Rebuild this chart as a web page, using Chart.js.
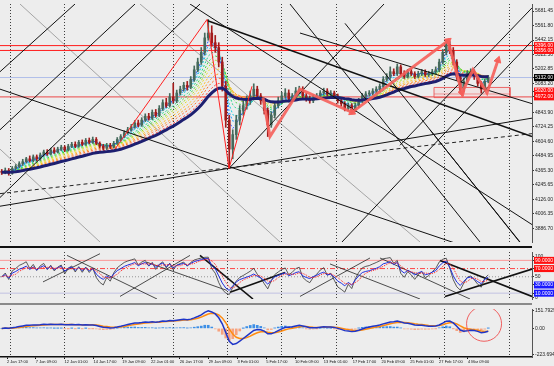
<!DOCTYPE html>
<html><head><meta charset="utf-8">
<script src="https://cdn.jsdelivr.net/npm/chart.js"></script>
<style>
html,body{margin:0;padding:0;background:#ededed;width:554px;height:366px;overflow:hidden;position:relative;}
canvas{position:absolute;left:0;}
.sep{position:absolute;left:0;width:532px;}
</style></head><body>
<canvas id="cMain" width="554" height="246" style="top:0"></canvas>
<div class="sep" style="top:246px;height:2px;background:#111"></div>
<canvas id="cRsi" width="554" height="55" style="top:248px"></canvas>
<div class="sep" style="top:303px;height:2px;background:#8a8a8a"></div>
<canvas id="cMacd" width="554" height="61" style="top:305px"></canvas>
<script>
// ---------- DATA (XAUUSD H4) ----------
const opens = [4356,4348,4364,4340,4380,4396,4420,4436,4460,4444,
4476,4460,4492,4516,4500,4532,4516,4540,4556,4532,
4564,4580,4564,4596,4580,4612,4596,4620,4588,4564,
4548,4572,4556,4588,4620,4644,4676,4700,4724,4756,
4740,4780,4812,4796,4844,4820,4876,4924,4900,4972,
4940,5004,5036,5068,5052,5116,5196,5260,5340,5460,
5500,5420,5380,5260,5060,4780,4540,4660,4780,4860,
4900,4940,4980,5036,4980,4940,4860,4740,4820,4900,
4940,4980,5004,4956,4980,5020,5036,4980,4956,4940,
4964,4980,5004,5020,4996,5004,4980,4940,4916,4876,
4900,4860,4900,4940,4980,4996,5004,5020,5036,5060,
5116,5140,5180,5164,5220,5164,5140,5180,5164,5140,
5164,5180,5156,5164,5180,5196,5260,5340,5404,5356,
5260,5140,5036,5100,5164,5180,5140,5084,5036,5100];
const closes = [4348,4364,4340,4380,4396,4420,4436,4460,4444,4476,
4460,4492,4516,4500,4532,4516,4540,4556,4532,4564,
4580,4564,4596,4580,4612,4596,4620,4588,4564,4548,
4572,4556,4588,4620,4644,4676,4700,4724,4756,4740,
4780,4812,4796,4844,4820,4876,4924,4900,4972,4940,
5004,5036,5068,5052,5116,5196,5260,5340,5460,5500,
5420,5380,5260,5060,4780,4540,4660,4780,4860,4900,
4940,4980,5036,4980,4940,4860,4740,4820,4900,4940,
4980,5004,4956,4980,5020,5036,4980,4956,4940,4964,
4980,5004,5020,4996,5004,4980,4940,4916,4876,4900,
4860,4900,4940,4980,4996,5004,5020,5036,5060,5116,
5140,5180,5164,5220,5164,5140,5180,5164,5140,5164,
5180,5156,5164,5180,5196,5260,5340,5404,5356,5260,
5140,5036,5100,5164,5180,5140,5084,5036,5100,5132];
const highs = [4372,4384,4380,4396,4412,4436,4456,4472,4484,4492,
4492,4508,4532,4536,4548,4552,4556,4572,4568,4580,
4596,4600,4612,4616,4628,4632,4640,4636,4600,4580,
4588,4588,4604,4636,4660,4692,4720,4744,4776,4780,
4800,4832,4836,4864,4868,4900,4948,4960,5000,5084,
5028,5060,5092,5100,5140,5228,5292,5380,5500,5612,
5560,5480,5420,5300,5100,4820,4700,4820,4900,4940,
4980,5020,5080,5060,5000,4960,4880,4850,4920,4970,
5010,5040,5030,5000,5050,5060,5056,5000,4980,4988,
5000,5024,5044,5040,5024,5020,4996,4960,4932,4920,
4916,4920,4960,5000,5016,5024,5040,5056,5080,5140,
5164,5220,5204,5244,5236,5188,5200,5204,5180,5184,
5200,5196,5184,5200,5220,5284,5364,5444,5430,5380,
5280,5160,5124,5190,5204,5196,5156,5100,5120,5150];
const lows = [4330,4336,4324,4332,4368,4384,4404,4424,4432,4436,
4444,4448,4480,4488,4492,4504,4508,4528,4520,4524,
4552,4552,4556,4568,4572,4584,4588,4576,4548,4532,
4536,4544,4548,4580,4608,4636,4664,4688,4712,4724,
4728,4768,4780,4784,4804,4808,4860,4884,4888,4920,
4924,4988,5020,5028,5040,5100,5180,5240,5320,5440,
5390,5340,5220,5020,4720,4380,4460,4620,4740,4820,
4870,4910,4960,4950,4910,4830,4644,4720,4800,4880,
4920,4960,4930,4936,4960,5000,4960,4936,4920,4924,
4948,4964,4988,4980,4980,4960,4920,4896,4856,4860,
4836,4848,4884,4924,4964,4980,4988,5004,5020,5044,
5100,5124,5148,5148,5148,5124,5128,5148,5124,5128,
5148,5140,5140,5148,5164,5180,5244,5320,5330,5236,
5116,5004,5016,5084,5148,5116,5060,5004,5020,5088];

const xLabels = ["2 Jan 17:00","7 Jan 09:00","12 Jan 01:00","14 Jan 17:00","19 Jan 09:00","22 Jan 01:00","26 Jan 17:00","29 Jan 09:00","3 Feb 01:00","5 Feb 17:00","10 Feb 09:00","13 Feb 01:00","17 Feb 17:00","20 Feb 09:00","25 Feb 01:00","27 Feb 17:00","4 Mar 09:00"];
const xLabelPos = [2,10.23,18.46,26.69,34.92,43.15,51.38,59.61,67.84,76.07,84.3,92.53,100.76,108.99,117.22,125.45,133.68];
const separatorPos = [3.14,18.29,49.43,64.86,80.57,96,127.14,145.43];

const priceTicks = [5681.45,5561.80,5442.15,5322.50,5202.85,5083.20,4843.90,4724.25,4604.60,4484.95,4365.30,4245.65,4126.00,4006.35,3886.70];
const redPriceLabels = [5396.00,5356.00,5020.00,4972.00];
const currentPrice = 5132.00;
const redLevels = [5396, 5356];
const pinkLevels = [4972];
const zone = {x1:124, x2:145.7, top:5050, mid:4996, bottom:4966};

const rsiTicks = [100,50,0];
const rsiRedLabels = [90,70];
const rsiBlueLabels = [30,10];

// trend lines [x1, y1, x2, y2] in (bar, price)
const trendMain = [
 [0,5180,21.43,5740],[0,4700,38.57,5740],[0,4140,57.14,5740],
 [65.43,4380,109.71,5740],[97.71,3772,152,5436],[114.29,4572,152,5708],
 [54.29,5740,152,3916],[0,5036,152,3548],[0,4068,152,4796],
 [82.86,5740,137.14,3772],[98.57,5580,152,3644],[122.86,4700,148.57,3772],
 [85.71,5500,152,4916]];
const trendMainBold = [[59.14,5604,152,4644]];
const trendMainDashed = [[0,4172,152,4668]];
const trendMainGray = [[5.71,5740,80,3772],[0,4540,28.57,3772],[40,5740,120,3772]];
const trendRsi = [
 [19.14,102.1,44.86,-4.2],[12.29,37.5,28.57,106.25],[42,85.4,64.86,16.7],
 [34.29,2.1,54.29,102.1],[94.29,81.25,120,-4.2],[108.57,95.8,134.29,-4.2],
 [85.71,2.1,105.71,95.8]];
const trendRsiBold = [[57.14,102.1,72.29,-4.2],[65.71,12.5,81.43,60.4],[125.71,89.6,152,2.1],[127.14,2.1,152,68.75]];

const zigThin = [[32.86,4540],[59.14,5612],[65.43,4380],[72,5060]];
const zigThick = [[75.14,4964],[77.14,4644],[85.71,5036],[100.57,4844],[128,5436],[132,5004],[135.14,5196],[139.14,5004],[142.29,5276]];
const zigArrowRot = [0,0,0,115,52,165,0,0,18];
const zigArrowSize = [0,0,0,4,4,4,0,0,4];

const circleAt = {x:138.3};

// indicator parameters (each bar here spans two H4 bars of the original)
const RIBBON = [3,4,5,7,9,11,13,16,19,22,26];
const RIBBON_COLORS = ['#2a5bff','#1f9dff','#16cde0','#1fd68a','#3fd43f','#a2e02a','#e6dc2e','#ffc01c','#ff981c','#ff6a28','#ff2f2f'];
const NAVY = 30;
const MACD_P = [6,13,5];
const RSI_P = [7,4,3];

// ---------- helpers ----------
const X_MAX = 152;
function ema(src,n){const k=2/(n+1);const o=[];let e=src[0];for(let i=0;i<src.length;i++){e=i===0?src[0]:src[i]*k+e*(1-k);o.push(e);}return o;}
function rsi(src,n){
  let seed=0;for(let i=1;i<=n;i++)seed+=Math.abs(src[i]-src[i-1]);seed/=(2*n);
  let ag=seed,al=seed;const o=[50];
  for(let i=1;i<src.length;i++){const d=src[i]-src[i-1],g=Math.max(d,0),l=Math.max(-d,0);ag=(ag*(n-1)+g)/n;al=(al*(n-1)+l)/n;o.push(al===0?100:100-100/(1+ag/al));}
  return o;}
function sma(src,n){return src.map((_,i)=>{const s=Math.max(0,i-n+1);let t=0;for(let j=s;j<=i;j++)t+=src[j];return t/(i-s+1);});}
const pts = arr => arr.map((v,i)=>({x:i+0.5,y:v}));
const seg = s => [{x:s[0],y:s[1]},{x:s[2],y:s[3]}];
function line(data,color,width,extra){return Object.assign({type:'line',data,borderColor:color,borderWidth:width,pointRadius:0,pointHoverRadius:0,fill:false,tension:0},extra||{});}
const FONT = 'Liberation Sans';
const BULL = '#466a5c', BEAR = '#a31c1c';
const candleColor = closes.map((c,i)=> c>=opens[i]?BULL:BEAR);

function gridAxis(){return {type:'linear',min:0,max:X_MAX,offset:false,display:true,ticks:{display:false},
  grid:{color:'rgba(30,30,30,0.85)',lineWidth:1,drawTicks:false,offset:false},
  border:{display:false,dash:[1,2]},
  afterBuildTicks:s=>{s.ticks=separatorPos.map(v=>({value:v}));},
  afterFit:s=>{s.height=0;}};}
function yAxis(min,max,tickVals,fmt,boxColor){return {type:'linear',position:'right',min,max,
  afterBuildTicks:s=>{s.ticks=tickVals.map(v=>({value:v}));},
  afterFit:s=>{s.width=22;},
  ticks:{autoSkip:false,font:{size:5,family:FONT},padding:1,callback:fmt,
    color:c=>(c.tick&&boxColor(c.tick.value))?'#fff':'#222',
    showLabelBackdrop:c=>!!(c.tick&&boxColor(c.tick.value)),
    backdropColor:c=>(c.tick&&boxColor(c.tick.value))||'rgba(0,0,0,0)',
    backdropPadding:{x:1,y:0.5}},
  grid:{display:true,drawOnChartArea:false,tickLength:2,tickColor:'#333'},
  border:{display:true,color:'#555',width:1}};}
const baseOpts = {responsive:false,animation:false,events:[],layout:{padding:0,autoPadding:false},
  plugins:{legend:{display:false},tooltip:{enabled:false}}};

// ---------- MAIN PANE ----------
const mainDs = [];
mainDs.push(line([{x:0,y:currentPrice},{x:X_MAX,y:currentPrice}],'rgba(150,170,230,0.7)',1,{order:90}));
redLevels.forEach(v=>mainDs.push(line([{x:0,y:v},{x:X_MAX,y:v}],'#ff1a1a',1,{order:90})));
pinkLevels.forEach(v=>mainDs.push(line([{x:0,y:v},{x:X_MAX,y:v}],'rgba(235,70,70,0.8)',1.3,{order:90})));
mainDs.push(line([{x:zone.x1,y:zone.top},{x:zone.x2,y:zone.top},{x:zone.x2,y:zone.bottom},{x:zone.x1,y:zone.bottom},{x:zone.x1,y:zone.top}],'rgba(235,80,80,0.85)',1,{fill:'shape',backgroundColor:'rgba(255,170,170,0.18)',order:85}));
mainDs.push(line([{x:zone.x1,y:zone.mid},{x:zone.x2,y:zone.mid}],'rgba(235,80,80,0.6)',1,{order:85}));
trendMainGray.forEach(s=>mainDs.push(line(seg(s),'rgba(90,90,90,0.7)',0.7,{order:80})));
trendMainDashed.forEach(s=>mainDs.push(line(seg(s),'#222',1,{borderDash:[4,3],order:80})));
RIBBON.forEach((p,k)=>mainDs.push(line(pts(ema(closes,p)),RIBBON_COLORS[k],1,{borderDash:[2,2],order:70})));
mainDs.push({type:'bar',data:closes.map((c,i)=>({x:i+0.5,y:[lows[i],highs[i]]})),backgroundColor:candleColor,barThickness:1,grouped:false,order:60});
mainDs.push({type:'bar',data:closes.map((c,i)=>({x:i+0.5,y:[opens[i],c]})),backgroundColor:candleColor,barThickness:2,grouped:false,minBarLength:1,order:59});
mainDs.push(line(pts(ema(closes,NAVY)),'#1d1f70',3,{order:50}));
trendMain.forEach(s=>mainDs.push(line(seg(s),'#111',1,{order:40})));
trendMainBold.forEach(s=>mainDs.push(line(seg(s),'#111',1.5,{order:40})));
mainDs.push(line(zigThin.map(p=>({x:p[0],y:p[1]})),'#ff2020',1,{order:20}));
mainDs.push(line(zigThick.map(p=>({x:p[0],y:p[1]})),'rgba(245,95,90,0.9)',3,{order:10,
  pointStyle:'triangle',pointRadius:zigArrowSize,pointRotation:zigArrowRot,pointBackgroundColor:'rgba(245,95,90,0.95)',pointBorderColor:'rgba(245,95,90,0.95)',pointBorderWidth:1}));

const mainTickVals = priceTicks.concat(redPriceLabels,[currentPrice]);
const mainBox = v => redPriceLabels.includes(v)?'#ff1010':(v===currentPrice?'#000':null);
new Chart(document.getElementById('cMain'),{type:'bar',data:{datasets:mainDs},
  options:Object.assign({},baseOpts,{scales:{x:gridAxis(),y:yAxis(3772,5740,mainTickVals,v=>v.toFixed(2),mainBox)}})});

// ---------- RSI PANE ----------
const rsiMain = rsi(closes,RSI_P[0]), rsiFast = rsi(closes,RSI_P[1]), rsiSig = sma(rsiMain,RSI_P[2]);
const rsiDs = [];
rsiDs.push(line([{x:0,y:90},{x:X_MAX,y:90}],'rgba(255,120,120,0.75)',1,{order:90}));
rsiDs.push(line([{x:0,y:70},{x:X_MAX,y:70}],'rgba(255,50,50,0.9)',1,{borderDash:[5,2,1,2],order:90}));
rsiDs.push(line([{x:0,y:50},{x:X_MAX,y:50}],'rgba(140,140,140,0.9)',1,{borderDash:[1,2],order:90}));
rsiDs.push(line([{x:0,y:10},{x:X_MAX,y:10}],'rgba(190,190,225,0.9)',1,{order:90}));
trendRsi.forEach(s=>rsiDs.push(line(seg(s),'#222',0.8,{order:50})));
trendRsiBold.forEach(s=>rsiDs.push(line(seg(s),'#111',1.6,{order:50})));
rsiDs.push(line(pts(rsiFast),'#333',0.8,{order:40}));
rsiDs.push(line(pts(rsiMain),'#2030e0',1,{order:30}));
rsiDs.push(line(pts(rsiSig),'#ff2020',1,{borderDash:[1,1],order:20}));
const rsiTickVals = rsiTicks.concat(rsiRedLabels,rsiBlueLabels);
const rsiBox = v => rsiRedLabels.includes(v)?'#ff1010':(rsiBlueLabels.includes(v)?'#1a1aff':null);
new Chart(document.getElementById('cRsi'),{type:'line',data:{datasets:rsiDs},
  options:Object.assign({},baseOpts,{scales:{x:gridAxis(),y:yAxis(-4.17,110.4,rsiTickVals,v=>(rsiRedLabels.includes(v)||rsiBlueLabels.includes(v))?v.toFixed(4):String(v),rsiBox)}})});

// ---------- MACD PANE ----------
const eF = ema(closes,MACD_P[0]), eS = ema(closes,MACD_P[1]);
const macd = eF.map((v,i)=>v-eS[i]);
const sig = ema(macd,MACD_P[2]);
const hist = macd.map((v,i)=>v-sig[i]);
const all = macd.concat(sig,hist);
const vMax = Math.max(...all), vMin = Math.min(...all);
const ppu = Math.min(19/vMax, 32/(-vMin));   // pixels per unit, zero 21px below top of a 52px pane
const mMax = 21/ppu, mMin = -31/ppu;
const macdTicks = [19/ppu, 0, -28/ppu];
const macdDs = [];
macdDs.push({type:'bar',data:pts(hist),backgroundColor:hist.map(v=>v>=0?'#3d8fe6':'#f7a27e'),barThickness:2,grouped:false,order:60});
macdDs.push(line(pts(sig),'#ff8c10',1.5,{order:40}));
macdDs.push(line(pts(macd),'#1f36c8',1.5,{order:30}));
macdDs.push({type:'scatter',data:[{x:circleAt.x,y:5/ppu}],pointRadius:17.5,pointBorderColor:'rgba(240,80,80,0.9)',pointBackgroundColor:'rgba(0,0,0,0)',pointBorderWidth:1,order:10});
const macdX = {type:'linear',min:0,max:X_MAX,offset:false,position:'bottom',
  afterBuildTicks:s=>{s.ticks=xLabelPos.map(v=>({value:v}));},
  afterFit:s=>{s.height=9;},
  ticks:{display:true,align:'start',autoSkip:false,maxRotation:0,minRotation:0,padding:0,font:{size:4,family:FONT},color:'#111',callback:(v,i)=>xLabels[i]},
  grid:{display:true,drawOnChartArea:false,tickLength:2,color:'#111',offset:false},
  border:{display:true,color:'#111',width:1.5}};
new Chart(document.getElementById('cMacd'),{type:'bar',data:{datasets:macdDs},
  options:Object.assign({},baseOpts,{scales:{x:macdX,xg:gridAxis(),y:yAxis(mMin,mMax,macdTicks,v=>v===0?'0.00':v.toFixed(4),()=>null)}})});
</script>
</body></html>
